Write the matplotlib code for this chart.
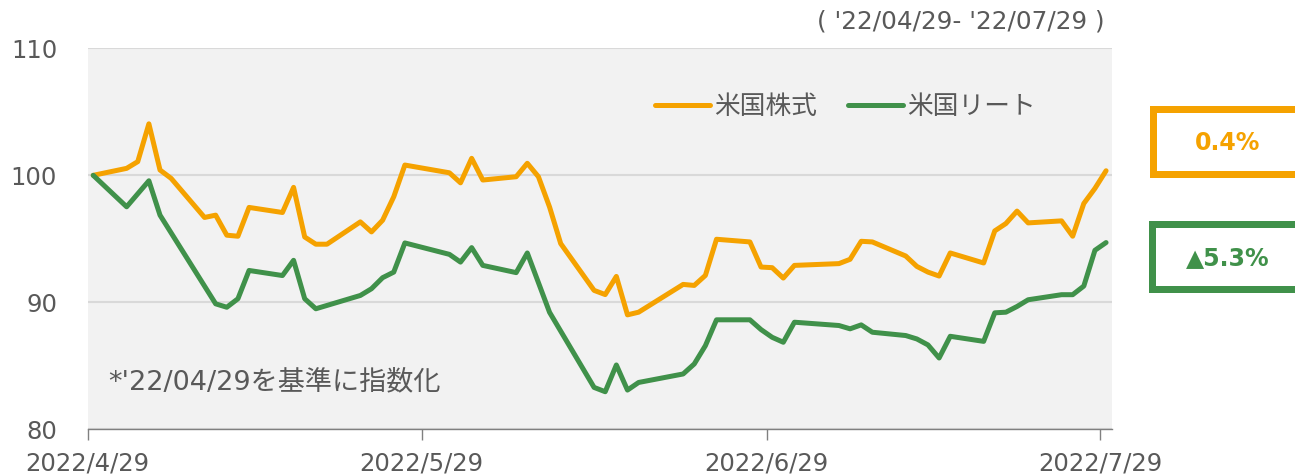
import pandas as pd
import matplotlib
matplotlib.use('Agg')
import matplotlib.pyplot as plt
from matplotlib.patches import Rectangle

plt.rcParams['font.family'] = ['DejaVu Sans', 'Noto Sans CJK JP']

# 米国株式 (orange)
stock_dates = ['2022-04-29', '2022-05-02', '2022-05-03', '2022-05-04', '2022-05-05', '2022-05-06',
               '2022-05-09', '2022-05-10', '2022-05-11', '2022-05-12', '2022-05-13',
               '2022-05-16', '2022-05-17', '2022-05-18', '2022-05-19', '2022-05-20',
               '2022-05-23', '2022-05-24', '2022-05-25', '2022-05-26', '2022-05-27',
               '2022-05-31', '2022-06-01', '2022-06-02', '2022-06-03',
               '2022-06-06', '2022-06-07', '2022-06-08', '2022-06-09', '2022-06-10',
               '2022-06-13', '2022-06-14', '2022-06-15', '2022-06-16', '2022-06-17',
               '2022-06-21', '2022-06-22', '2022-06-23', '2022-06-24',
               '2022-06-27', '2022-06-28', '2022-06-29', '2022-06-30', '2022-07-01',
               '2022-07-05', '2022-07-06', '2022-07-07', '2022-07-08',
               '2022-07-11', '2022-07-12', '2022-07-13', '2022-07-14', '2022-07-15',
               '2022-07-18', '2022-07-19', '2022-07-20', '2022-07-21', '2022-07-22',
               '2022-07-25', '2022-07-26', '2022-07-27', '2022-07-28', '2022-07-29']
stock_vals = [100.0, 100.55, 101.08, 104.06, 100.42, 99.76,
              96.68, 96.86, 95.28, 95.2, 97.47,
              97.07, 99.05, 95.14, 94.57, 94.57,
              96.33, 95.54, 96.46, 98.31, 100.81,
              100.2, 99.41, 101.34, 99.63,
              99.89, 100.95, 99.89, 97.5, 94.62,
              90.93, 90.6, 92.03, 89.0, 89.21,
              91.4, 91.32, 92.11, 94.96,
              94.75, 92.77, 92.72, 91.9, 92.9,
              93.04, 93.38, 94.8, 94.75,
              93.64, 92.82, 92.37, 92.06, 93.88,
              93.09, 95.62, 96.2, 97.18, 96.25,
              96.41, 95.2, 97.78, 98.97, 100.36]

# 米国リート (green)
reit_dates = ['2022-04-29', '2022-05-02', '2022-05-04', '2022-05-05',
              '2022-05-10', '2022-05-11', '2022-05-12', '2022-05-13',
              '2022-05-16', '2022-05-17', '2022-05-18', '2022-05-19',
              '2022-05-23', '2022-05-24', '2022-05-25', '2022-05-26', '2022-05-27',
              '2022-05-31', '2022-06-01', '2022-06-02', '2022-06-03',
              '2022-06-06', '2022-06-07', '2022-06-09',
              '2022-06-13', '2022-06-14', '2022-06-15', '2022-06-16', '2022-06-17',
              '2022-06-21', '2022-06-22', '2022-06-23', '2022-06-24',
              '2022-06-27', '2022-06-28', '2022-06-29', '2022-06-30', '2022-07-01',
              '2022-07-05', '2022-07-06', '2022-07-07', '2022-07-08',
              '2022-07-11', '2022-07-12', '2022-07-13', '2022-07-14', '2022-07-15',
              '2022-07-18', '2022-07-19', '2022-07-20', '2022-07-21', '2022-07-22',
              '2022-07-25', '2022-07-26', '2022-07-27', '2022-07-28', '2022-07-29']
reit_vals = [100.0, 97.52, 99.57, 96.86,
             89.87, 89.6, 90.27, 92.5,
             92.1, 93.3, 90.27, 89.48,
             90.53, 91.06, 91.93, 92.37, 94.67,
             93.77, 93.16, 94.3, 92.9,
             92.33, 93.88, 89.2,
             83.28, 82.94, 85.05, 83.07, 83.67,
             84.34, 85.13, 86.57, 88.61,
             88.61, 87.84, 87.23, 86.84, 88.42,
             88.16, 87.9, 88.21, 87.63,
             87.37, 87.1, 86.63, 85.6, 87.31,
             86.91, 89.16, 89.21, 89.66, 90.19,
             90.59, 90.59, 91.27, 94.09, 94.7]

series_names = ['米国株式', '米国リート']
tick_dates = ['2022-04-29', '2022-05-29', '2022-06-29', '2022-07-29']
tick_labels = ['2022/4/29', '2022/5/29', '2022/6/29', '2022/7/29']
returns = ['0.4%', '▲5.3%']

orange = '#F5A200'
green = '#40914A'
gray_txt = '#595959'

W, H = 1295, 474

# points sit at the middle of each day, like the Excel date axis
half_day = pd.Timedelta(hours=12)
x_stock = pd.to_datetime(stock_dates) + half_day
x_reit = pd.to_datetime(reit_dates) + half_day

fig = plt.figure(figsize=(12.95, 4.74), dpi=100)
ax = fig.add_axes([0.0677, 0.0949, 0.7907, 0.8028])
ax.set_facecolor('#F2F2F2')

ax.plot(x_stock, stock_vals, color=orange, lw=3.6, solid_joinstyle='round', solid_capstyle='round',
        label=series_names[0], zorder=3)
ax.plot(x_reit, reit_vals, color=green, lw=3.6, solid_joinstyle='round', solid_capstyle='round',
        label=series_names[1], zorder=3)

ax.set_xlim(pd.Timestamp('2022-04-29'), pd.Timestamp('2022-07-30'))
ax.set_ylim(80, 110)
ax.set_yticks([80, 90, 100, 110])
ax.yaxis.grid(True, color='#D9D9D9', lw=1.5)
ax.set_axisbelow(True)

ax.set_xticks(pd.to_datetime(tick_dates))
ax.set_xticklabels(tick_labels)

for s in ['left', 'top', 'right']:
    ax.spines[s].set_visible(False)
ax.spines['bottom'].set_color('#808080')
ax.spines['bottom'].set_linewidth(1.0)

ax.tick_params(axis='y', length=0, pad=22, labelsize=17.5, labelcolor=gray_txt)
ax.tick_params(axis='x', length=8, width=1.0, color='#808080', pad=8, labelsize=17.5, labelcolor=gray_txt)

leg = ax.legend(loc='center left', bbox_to_anchor=(655 / W, 1 - 107 / H), bbox_transform=fig.transFigure,
                ncol=2, frameon=False, fontsize=18.5, handlelength=2.15, handletextpad=0.15,
                columnspacing=1.2, borderpad=0, borderaxespad=0)
for t in leg.get_texts():
    t.set_color(gray_txt)

fig.text(1105 / W, 1 - 22 / H, "( '22/04/29- '22/07/29 )", ha='right', va='center',
         fontsize=17.8, color=gray_txt)
fig.text(108 / W, 1 - 382 / H, "*'22/04/29を基準に指数化", ha='left', va='center',
         fontsize=19.5, color=gray_txt)


# return boxes on the right: coloured outer block with a white inner block
def frame_box(left, top, bottom, color, border=7):
    fig.add_artist(Rectangle((left / W, 1 - bottom / H), (W + 10 - left) / W, (bottom - top) / H,
                             transform=fig.transFigure, facecolor=color, edgecolor='none', clip_on=False))
    fig.add_artist(Rectangle(((left + border) / W, 1 - (bottom - border) / H), (W + 10 - left) / W,
                             (bottom - top - 2 * border) / H, transform=fig.transFigure,
                             facecolor='white', edgecolor='none', clip_on=False))


frame_box(1150, 106, 178, orange)
frame_box(1149, 221, 293, green)

fig.text(1228 / W, 1 - 143 / H, returns[0], ha='center', va='center', fontsize=17,
         fontweight='bold', color=orange)
fig.text(1228 / W, 1 - 258 / H, returns[1], ha='center', va='center', fontsize=17,
         fontweight='bold', color=green)

fig.savefig('out.png', dpi=100)
